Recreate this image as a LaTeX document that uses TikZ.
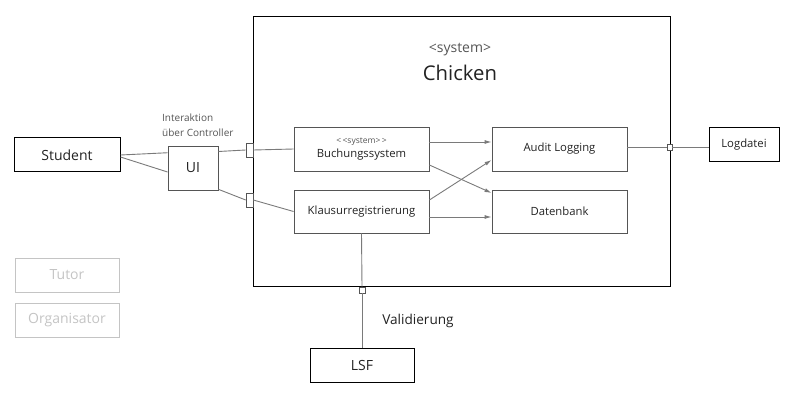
\documentclass[tikz,border=0pt]{standalone}
\usepackage{fontspec}
\setmainfont{Open Sans}
\usetikzlibrary{arrows.meta}
\definecolor{boxgray}{HTML}{555555}
\definecolor{linegray}{HTML}{7A7A7A}
\definecolor{faint}{HTML}{C4C4C4}
\definecolor{ink}{HTML}{222222}
\begin{document}
\begin{tikzpicture}[x=1pt,y=-1pt,
  every node/.style={text=ink},
  bbox/.style={draw=black,line width=1pt,inner sep=0pt,font=\fontsize{14}{16}\selectfont},
  gbox/.style={draw=boxgray,line width=0.8pt,inner sep=0pt,font=\fontsize{11.3}{13}\selectfont,minimum width=135,minimum height=44},
  fbox/.style={draw=faint,line width=1pt,inner sep=0pt,text=faint,font=\fontsize{14}{16}\selectfont,minimum width=104,minimum height=34},
  port/.style={draw=boxgray,fill=white,line width=0.7pt,inner sep=0pt},
  conn/.style={draw=linegray,line width=0.9pt},
  arr/.style={conn,-{Latex[length=7pt,width=4pt]}},
  txt/.style={inner sep=0pt}
]
\useasboundingbox (0,0) rectangle (786,406);
\node[draw=black,line width=1pt,minimum width=417,minimum height=269,inner sep=0pt] (sys) at (461.5,151.5) {};
\node[txt,font=\fontsize{14}{16}\selectfont,text=boxgray] (sysst) at (460,50) {<system>};
\node[txt,font=\fontsize{20.3}{24}\selectfont] (sysname) at (460,73) {Chicken};

\node[bbox,minimum width=106,minimum height=34] (student) at (67,155) {Student};
\node[draw=boxgray,line width=0.8pt,inner sep=0pt,minimum width=50,minimum height=44,font=\fontsize{14}{16}\selectfont] (ui) at (193,168) {UI};
\node[txt,anchor=west,font=\fontsize{10}{12}\selectfont,text=boxgray] (inter1) at (162,118) {Interaktion};
\node[txt,anchor=west,font=\fontsize{10}{12}\selectfont,text=boxgray] (inter2) at (162,133) {über Controller};

\node[port,minimum width=7,minimum height=14] (p1) at (249.5,150) {};
\node[port,minimum width=7,minimum height=14] (p2) at (249.5,200) {};
\node[port,minimum width=5,minimum height=6] (p3) at (669.5,147) {};
\node[port,minimum width=6,minimum height=6] (p4) at (362,290) {};

\node[gbox] (buch) at (361.5,149) {};
\node[txt,font=\fontsize{8.5}{10}\selectfont,text=boxgray] (buchst) at (361.5,141.5) {<\,<system>\,>};
\node[txt,font=\fontsize{11.3}{13}\selectfont] (buchname) at (361.5,155) {Buchungssystem};
\node[gbox,minimum height=43] (klaus) at (361.5,211.5) {Klausurregistrierung};
\node[gbox] (audit) at (559.5,149) {Audit Logging};
\node[gbox,minimum height=43] (daten) at (559.5,211.5) {Datenbank};

\node[bbox,minimum width=70,minimum height=34,font=\fontsize{11.3}{13}\selectfont] (logd) at (744,145) {Logdatei};
\node[bbox,minimum width=104,minimum height=34] (lsf) at (362,365) {LSF};
\node[txt,font=\fontsize{13.6}{16}\selectfont] (valid) at (418,321) {Validierung};

\node[fbox] (tutor) at (67,275) {Tutor};
\node[fbox] (orga) at (67,320) {Organisator};

\draw[conn] (student.east) -- (ui.149);
\draw[conn] ([yshift=-2pt]student.east) -- (ui.189);
\draw[conn] (ui.33) -- (p1.west);
\draw[conn] (p1.east) -- (buch.west);
\draw[conn] (ui.-40) -- (p2.west);
\draw[conn] (p2.east) -- (klaus.west);

\draw[arr] ([yshift=7pt]buch.east) -- ([yshift=7pt]audit.west);
\draw[arr] ([yshift=-16pt]buch.east) -- ([yshift=18.5pt]daten.west);
\draw[arr] ([yshift=11.5pt]klaus.east) -- ([yshift=-11pt]audit.west);
\draw[arr] ([yshift=-5.5pt]klaus.east) -- ([yshift=-5.5pt]daten.west);

\draw[conn] (audit.east |- p3) -- (p3.west);
\draw[conn] (p3.east) -- (p3 -| logd.west);
\draw[conn] (klaus.south) -- (p4.north);
\draw[conn] (p4.south) -- (lsf.north);
\end{tikzpicture}
\end{document}
